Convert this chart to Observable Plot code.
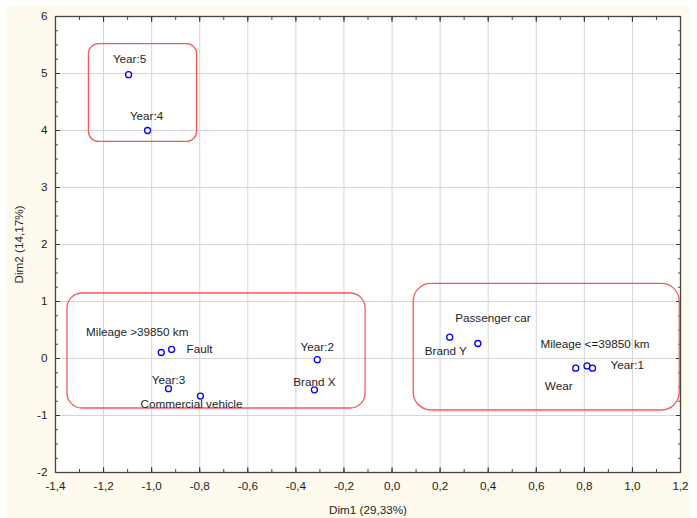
<!DOCTYPE html>
<html>
<head>
<meta charset="utf-8">
<script src="https://cdn.jsdelivr.net/npm/d3@7"></script>
<script src="https://cdn.jsdelivr.net/npm/@observablehq/plot@0.6"></script>
<style>
  html, body { margin: 0; padding: 0; background: #ffffff; }
  #wrap { position: relative; width: 697px; height: 518px; overflow: hidden; }
  #bg { position: absolute; left: 7px; top: 6px; width: 683px; height: 512px; background: #fffaee; }
  #chart { position: absolute; left: 0; top: 0; }
</style>
</head>
<body>
<div id="wrap"><div id="bg"></div><div id="chart"></div></div>
<script>
// Category names (correspondence analysis points)
const names = ["Year:5", "Year:4", "Mileage >39850 km", "Fault", "Year:3", "Commercial vehicle",
  "Year:2", "Brand X", "Brand Y", "Passenger car", "Mileage <=39850 km", "Year:1", "Wear"];
// Dim1 coordinates
const dim1 = [-1.096, -1.017, -0.96, -0.917, -0.93, -0.797, -0.311, -0.323, 0.24, 0.357, 0.811, 0.834, 0.764];
// Dim2 coordinates
const dim2 = [4.98, 4.0, 0.105, 0.16, -0.53, -0.66, -0.02, -0.55, 0.374, 0.263, -0.13, -0.17, -0.17];

// Cluster outlines (data ranges)
const groupNames = ["old", "left", "right"];
const groupX1 = [-1.261, -1.35, 0.09];
const groupX2 = [-0.811, -0.11, 1.197];
const groupY1 = [3.80, -0.877, -0.912];
const groupY2 = [5.514, 1.14, 1.31];

// Tick values
const xTicks = [-1.4, -1.2, -1.0, -0.8, -0.6, -0.4, -0.2, 0.0, 0.2, 0.4, 0.6, 0.8, 1.0, 1.2];
const yTicks = [-2, -1, 0, 1, 2, 3, 4, 5, 6];
const xLabel = "Dim1 (29,33%)";
const yLabel = "Dim2 (14,17%)";

// Label placement (layout, pixels)
const place = {
  "Year:5": [1, -15, "middle"],
  "Year:4": [-1, -14, "middle"],
  "Mileage >39850 km": [-24, -20, "middle"],
  "Fault": [15, 0, "start"],
  "Year:3": [0, -8, "middle"],
  "Commercial vehicle": [-9, 8, "middle"],
  "Year:2": [0, -12, "middle"],
  "Brand X": [0, -8, "middle"],
  "Brand Y": [-4, 14, "middle"],
  "Passenger car": [15, -25, "middle"],
  "Mileage <=39850 km": [8, -22, "middle"],
  "Year:1": [18, -3, "start"],
  "Wear": [-17, 18, "middle"]
};

const points = names.map((n, i) => ({name: n, x: dim1[i], y: dim2[i]}));
const groups = groupNames.map((g, i) => ({g, x1: groupX1[i], x2: groupX2[i], y1: groupY1[i], y2: groupY2[i]}));

const xMinor = d3.range(-14, 13).map(v => v / 10);
const yMinor = d3.range(-8, 25).map(v => v / 4);
const fmtX = d => d.toFixed(1).replace(".", ",").replace("\u2212", "-");
const fmtY = d => String(d);
const FS = 11.7;

const labelMarks = points.map(p => {
  const [dx, dy, anchor] = place[p.name];
  return Plot.text([p], {x: "x", y: "y", text: "name", dx, dy, textAnchor: anchor,
    fill: "#1e1e1e", fontSize: FS});
});

const chart = Plot.plot({
  width: 697,
  height: 518,
  marginLeft: 55,
  marginRight: 17,
  marginTop: 16,
  marginBottom: 46,
  style: {background: "transparent", fontFamily: "'Liberation Sans', Arial, sans-serif", fontSize: FS + "px", color: "#1e1e1e"},
  x: {domain: [-1.4, 1.2]},
  y: {domain: [-2, 6]},
  marks: [
    Plot.frame({fill: "white", stroke: null}),
    Plot.gridX(xTicks, {stroke: "#d6d6d6", strokeOpacity: 1}),
    Plot.gridY(yTicks, {stroke: "#d6d6d6", strokeOpacity: 1}),
    // minor ticks (inward) on all sides
    Plot.axisX(xMinor, {anchor: "bottom", tickSize: -3, text: null, label: null, stroke: "#444"}),
    Plot.axisX(xMinor, {anchor: "top", tickSize: -3, text: null, label: null, stroke: "#444"}),
    Plot.axisY(yMinor, {anchor: "left", tickSize: -3, text: null, label: null, stroke: "#444"}),
    Plot.axisY(yMinor, {anchor: "right", tickSize: -3, text: null, label: null, stroke: "#444"}),
    // major ticks with labels
    Plot.axisX(xTicks, {anchor: "bottom", tickSize: -5, tickPadding: 14, tickFormat: fmtX, stroke: "#333",
      fill: "#1e1e1e", fontSize: FS, label: xLabel, labelAnchor: "center", labelOffset: 41, labelArrow: "none"}),
    Plot.axisX(xTicks, {anchor: "top", tickSize: -5, text: null, label: null, stroke: "#333"}),
    Plot.axisY(yTicks, {anchor: "left", tickSize: -5, tickPadding: 13, tickFormat: fmtY, stroke: "#333",
      fill: "#1e1e1e", fontSize: FS, label: yLabel, labelAnchor: "center", labelOffset: 41, labelArrow: "none"}),
    Plot.axisY(yTicks, {anchor: "right", tickSize: -5, text: null, label: null, stroke: "#333"}),
    Plot.frame({stroke: "#444", strokeWidth: 1.3}),
    // cluster outlines
    Plot.rect(groups.filter(d => d.g === "old"), {x1: "x1", x2: "x2", y1: "y1", y2: "y2", rx: 10, fill: "none", stroke: "#ff5555", strokeWidth: 1.3}),
    Plot.rect(groups.filter(d => d.g === "left"), {x1: "x1", x2: "x2", y1: "y1", y2: "y2", rx: 15, fill: "none", stroke: "#ff5555", strokeWidth: 1.3}),
    Plot.rect(groups.filter(d => d.g === "right"), {x1: "x1", x2: "x2", y1: "y1", y2: "y2", rx: 18, fill: "none", stroke: "#ff5555", strokeWidth: 1.3}),
    Plot.dot(points, {x: "x", y: "y", r: 3, stroke: "#0000ff", strokeWidth: 1.3, fill: "white"}),
    ...labelMarks
  ]
});
document.getElementById("chart").appendChild(chart);
</script>
</body>
</html>
